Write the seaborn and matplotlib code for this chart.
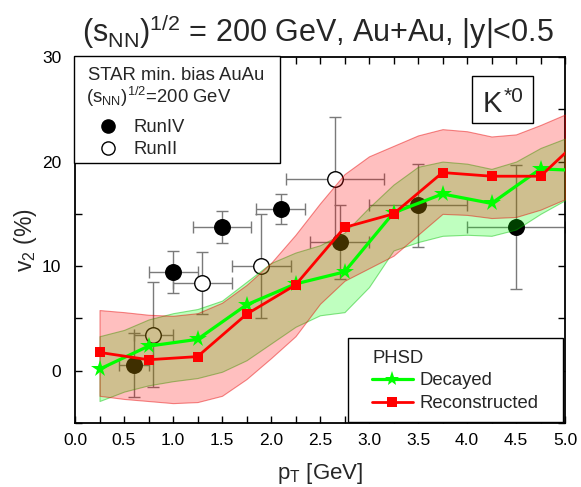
import matplotlib
matplotlib.use("Agg")
import matplotlib.pyplot as plt
from matplotlib.lines import Line2D
from matplotlib.patches import Rectangle
from matplotlib.ticker import MultipleLocator, FormatStrFormatter
import numpy as np
import pandas as pd
import seaborn as sns

# ---------------- data ----------------
# STAR Run IV (filled circles)
run4_pt = [0.6, 1.0, 1.5, 2.1, 2.7, 3.5, 4.5]
run4_v2 = [0.55, 9.45, 13.75, 15.45, 12.3, 15.8, 13.75]
run4_xerr = [0.15, 0.25, 0.3, 0.25, 0.3, 0.5, 0.5]
run4_yerr = [3.1, 2.0, 1.5, 1.45, 3.5, 4.0, 5.9]

# STAR Run II (open circles)
run2_pt = [0.8, 1.3, 1.9, 2.65]
run2_v2 = [3.45, 8.4, 10.0, 18.3]
run2_xerr = [0.2, 0.3, 0.3, 0.5]
run2_yerr = [5.0, 2.95, 5.0, 6.0]

# PHSD model
phsd_pt = [0.25, 0.75, 1.25, 1.75, 2.25, 2.75, 3.25, 3.75, 4.25, 4.75, 5.25]
decayed_v2 = [0.15, 2.35, 3.0, 6.3, 8.3, 9.45, 15.1, 16.9, 16.0, 19.3, 19.1]
recon_v2 = [1.75, 1.05, 1.35, 5.4, 8.2, 13.7, 15.0, 18.95, 18.6, 18.6, 23.0]

# PHSD uncertainty bands
band_pt = [0.25, 0.5, 0.75, 1.0, 1.25, 1.5, 1.75, 2.0, 2.25, 2.5,
           2.75, 3.0, 3.25, 3.5, 3.75, 4.0, 4.25, 4.5, 4.75, 5.0]
decayed_lo = [-2.9, -2.0, -1.4, -1.0, -0.7, -0.1, 1.0, 2.6, 4.2, 5.3,
              5.6, 8.0, 11.5, 12.3, 12.9, 13.0, 12.9, 13.5, 15.0, 16.3]
decayed_hi = [3.3, 3.9, 4.9, 5.5, 5.9, 6.7, 8.5, 10.3, 11.3, 12.0,
              13.2, 15.6, 17.8, 19.5, 20.0, 19.8, 19.3, 20.0, 21.3, 22.2]
recon_lo = [-2.4, -2.7, -2.9, -3.1, -3.0, -2.4, -0.8, 1.2, 3.3, 6.4,
            8.6, 9.8, 11.0, 13.0, 15.0, 14.9, 14.6, 14.7, 15.4, 16.4]
recon_hi = [5.8, 5.6, 5.35, 5.25, 5.5, 6.5, 8.2, 10.3, 13.0, 16.0,
            18.8, 20.5, 21.5, 22.5, 23.1, 22.9, 22.4, 22.6, 23.5, 24.5]

x_ticks = [0.0, 0.5, 1.0, 1.5, 2.0, 2.5, 3.0, 3.5, 4.0, 4.5, 5.0]
y_ticks = [0, 10, 20, 30]

# ---------------- style ----------------
sns.set_theme(style="ticks")
plt.rcParams['font.family'] = ['Liberation Sans', 'DejaVu Sans']
plt.rcParams['mathtext.fontset'] = 'custom'
plt.rcParams['mathtext.rm'] = 'Liberation Sans'
plt.rcParams['mathtext.it'] = 'Liberation Sans:italic'
plt.rcParams['mathtext.bf'] = 'Liberation Sans:bold'
plt.rcParams['axes.edgecolor'] = 'black'

fig = plt.figure(figsize=(5.81, 4.87), dpi=100)
ax = fig.add_axes([75 / 581, 64 / 487, 490 / 581, 366 / 487])

GREEN = '#00ff00'
RED = '#ff0000'

# error bars + STAR points (drawn below bands)
ax.errorbar(run4_pt, run4_v2, xerr=run4_xerr, yerr=run4_yerr, fmt='none',
            ecolor='#7a7a7a', elinewidth=1.0, capsize=4, capthick=1.0, zorder=1)
ax.errorbar(run2_pt, run2_v2, xerr=run2_xerr, yerr=run2_yerr, fmt='none',
            ecolor='#7a7a7a', elinewidth=1.0, capsize=4, capthick=1.0, zorder=1)
sns.scatterplot(x=run4_pt, y=run4_v2, ax=ax, marker='o', s=125, color='black',
                edgecolor='black', linewidth=1.0, zorder=2, legend=False)
sns.scatterplot(x=run2_pt, y=run2_v2, ax=ax, marker='o', s=125, color='white',
                edgecolor='black', linewidth=1.0, zorder=2, legend=False)

# bands
ax.fill_between(band_pt, decayed_lo, decayed_hi, facecolor=(0, 1, 0, 0.25),
                edgecolor=(0, 0.75, 0, 0.45), linewidth=0.8, zorder=3)
ax.fill_between(band_pt, recon_lo, recon_hi, facecolor=(1, 0, 0, 0.25),
                edgecolor=(0.9, 0, 0, 0.45), linewidth=0.8, zorder=4)

# PHSD lines
df_dec = pd.DataFrame({'pt': phsd_pt, 'v2': decayed_v2})
df_rec = pd.DataFrame({'pt': phsd_pt, 'v2': recon_v2})
sns.lineplot(data=df_dec, x='pt', y='v2', ax=ax, color=GREEN, linewidth=2.3,
             marker='*', markersize=13, markeredgewidth=0, zorder=5, legend=False)
sns.lineplot(data=df_rec, x='pt', y='v2', ax=ax, color=RED, linewidth=2.0,
             marker='s', markersize=7.5, markeredgewidth=0, zorder=6, legend=False)

# axes
ax.set_xlim(0, 5)
ax.set_ylim(-5, 30)
ax.set_xticks(x_ticks)
ax.set_yticks(y_ticks)
ax.xaxis.set_minor_locator(MultipleLocator(0.25))
ax.yaxis.set_minor_locator(MultipleLocator(5))
ax.xaxis.set_major_formatter(FormatStrFormatter('%.1f'))
ax.tick_params(which='both', direction='in', length=5, width=1.0,
               top=True, right=True, colors='black')
ax.tick_params(axis='x', which='major', pad=7.5, labelsize=12.5)
ax.tick_params(axis='y', which='major', pad=10, labelsize=12.5)
for sp in ax.spines.values():
    sp.set_linewidth(1.3)
    sp.set_color('black')

ax.set_xlabel(r'p$_\mathrm{T}$ [GeV]', fontsize=16, va='baseline')
ax.xaxis.set_label_coords(0.5, -0.153)
ax.set_ylabel(r'v$_2$ (%)', fontsize=16.5, va='center')
ax.yaxis.set_label_coords(-0.102, 0.5)

# title
fig.text(0.548, 0.914, r'$(\mathrm{s}_{\mathrm{NN}})^{1/2}$ = 200 GeV, Au+Au, |y|<0.5',
         ha='center', va='baseline', fontsize=22)

# STAR legend
ax.add_patch(Rectangle((-0.002, 0.7104), 0.4204, 0.2923, transform=ax.transAxes,
                       facecolor='white', edgecolor='black', linewidth=1.0,
                       zorder=10, clip_on=False))
ax.text(0.0265, 0.937, 'STAR min. bias AuAu', transform=ax.transAxes,
        ha='left', va='baseline', fontsize=13.3, zorder=11)
ax.text(0.0224, 0.873, r'$(\mathrm{s}_{\mathrm{NN}})^{1/2}$=200 GeV',
        transform=ax.transAxes, ha='left', va='baseline', fontsize=13.3, zorder=11)
h4 = Line2D([], [], ls='none', marker='o', ms=9.5, mfc='black', mec='black', mew=1.0)
h2 = Line2D([], [], ls='none', marker='o', ms=9.5, mfc='white', mec='black', mew=1.0)
leg1 = ax.legend([h4, h2], ['RunIV', 'RunII'],
                 loc='center left', bbox_to_anchor=(0.0265, 0.777), frameon=False,
                 borderpad=0, borderaxespad=0, fontsize=13.3,
                 handlelength=2.16, handletextpad=0.32, labelspacing=0.28)
leg1.set_zorder(11)
ax.add_artist(leg1)

# PHSD legend
ax.add_patch(Rectangle((0.5571, 0.0027), 0.4388, 0.2295, transform=ax.transAxes,
                       facecolor='white', edgecolor='black', linewidth=1.0,
                       zorder=10, clip_on=False))
ax.text(0.6075, 0.1626, 'PHSD', transform=ax.transAxes, ha='left', va='baseline',
        fontsize=13.3, zorder=11)
hd = Line2D([], [], color=GREEN, lw=2.3, marker='*', ms=11, mew=0)
hr = Line2D([], [], color=RED, lw=2.0, marker='s', ms=7.5, mew=0)
leg2 = ax.legend([hd, hr], ['Decayed', 'Reconstructed'],
                 loc='center left', bbox_to_anchor=(0.6055, 0.084), frameon=False,
                 borderpad=0, borderaxespad=0, fontsize=13.3,
                 handlelength=2.25, handletextpad=0.32, labelspacing=0.35)
leg2.set_zorder(11)

# K*0 label
ax.add_patch(Rectangle((0.810, 0.8197), 0.1245, 0.1284, transform=ax.transAxes,
                       facecolor='white', edgecolor='black', linewidth=1.0, zorder=10))
ax.text(0.832, 0.8506, 'K', transform=ax.transAxes, ha='left',
        va='baseline', fontsize=21, zorder=11)
ax.text(0.8755, 0.878, '*0', transform=ax.transAxes, ha='left',
        va='baseline', fontsize=15, zorder=11)

fig.savefig('out.png', dpi=100)
